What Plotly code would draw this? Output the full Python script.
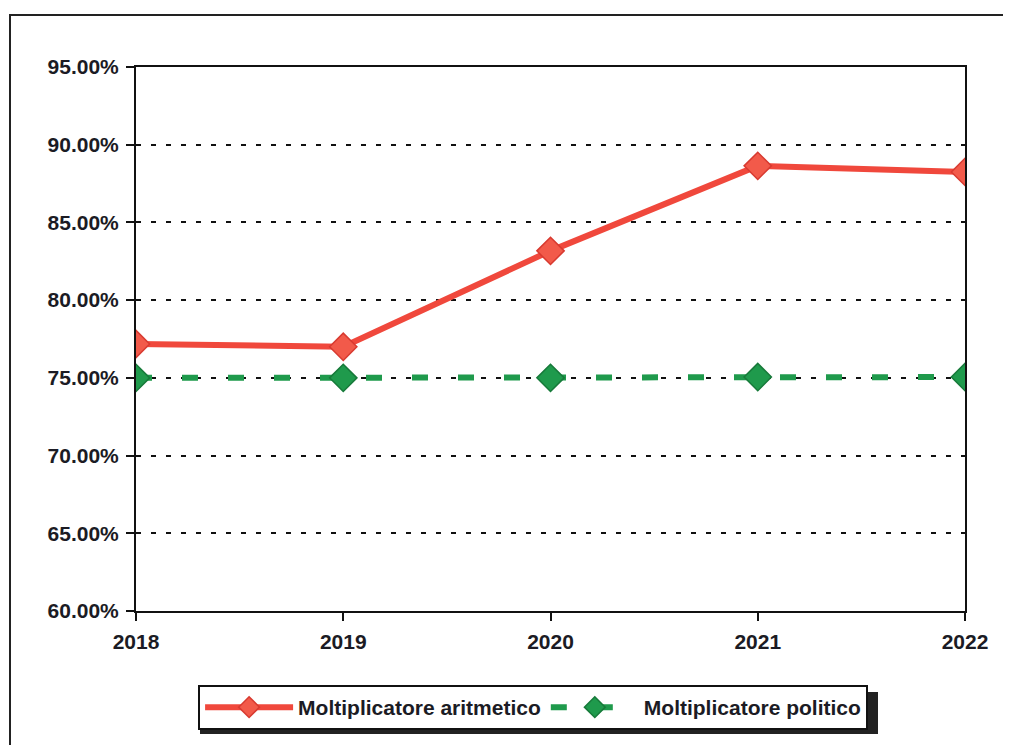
import plotly.graph_objects as go

years = ["2018", "2019", "2020", "2021", "2022"]
aritmetico = [77.18, 77.0, 83.17, 88.64, 88.25]
politico = [75.0, 75.0, 75.0, 75.05, 75.05]
y_ticks = [60, 65, 70, 75, 80, 85, 90, 95]
y_labels = [f"{v:.2f}%" for v in y_ticks]

W, H = 1011, 745
OFF = 7  # page offset of the figure inside the browser window
L, T = 135 - OFF, 66 - OFF
R = W - (964 - OFF)
B = H - (610 - OFF)

TXT = "#1b1b24"
FAM = "Liberation Sans, Arial, sans-serif"
tickfont = dict(family=FAM, size=21, color=TXT, weight="bold")

fig = go.Figure()
fig.add_trace(go.Scatter(
    x=years, y=aritmetico, name="Moltiplicatore aritmetico",
    mode="lines+markers",
    line=dict(color="#f0483c", width=6),
    marker=dict(symbol="diamond", size=21, color="#f25a4a",
                line=dict(color="#d83a30", width=1.5)),
))
fig.add_trace(go.Scatter(
    x=years, y=politico, name="Moltiplicatore politico",
    mode="lines+markers",
    line=dict(color="#1f9a4c", width=6, dash="16px,30px"),
    marker=dict(symbol="diamond", size=21, color="#1f9a4c",
                line=dict(color="#177a3a", width=1.5)),
))

fig.update_layout(
    width=W, height=H,
    margin=dict(l=L, r=R, t=T, b=B),
    paper_bgcolor="white", plot_bgcolor="white",
    font=dict(family=FAM, size=21, color=TXT),
    showlegend=True,
    legend=dict(
        orientation="h", x=0.479, xanchor="center", y=-0.136, yanchor="top",
        bgcolor="white", bordercolor="#111111", borderwidth=2,
        font=dict(family=FAM, size=21, color=TXT, weight="bold"),
        itemwidth=88,
    ),
    xaxis=dict(
        type="category", range=[0, 4], showgrid=False,
        showline=True, linecolor="#111111", linewidth=2,
        mirror=True, ticks="outside", ticklen=8, tickwidth=2, tickcolor="#111111",
        tickfont=tickfont, zeroline=False, ticklabelstandoff=3,
    ),
    yaxis=dict(
        range=[60, 95], tickvals=y_ticks, ticktext=y_labels,
        showgrid=True, gridcolor="#111111", gridwidth=2, griddash="5px,10px",
        showline=True, linecolor="#111111", linewidth=2, mirror=True,
        ticks="outside", ticklen=8, tickwidth=2, tickcolor="#111111",
        tickfont=tickfont, zeroline=False, ticklabelstandoff=3,
    ),
)

# outer chart frame (paper coordinates, converted from screen pixel positions)
def px_x(p):
    return (p - OFF - L) / (W - L - R)

def px_y(p):
    return (H - B - (p - OFF)) / (H - T - B)

fig.add_shape(type="line", xref="paper", yref="paper",
              x0=px_x(8), x1=px_x(1020), y0=px_y(14), y1=px_y(14),
              line=dict(color="#222222", width=2))
fig.add_shape(type="line", xref="paper", yref="paper",
              x0=px_x(9), x1=px_x(9), y0=px_y(14), y1=px_y(760),
              line=dict(color="#222222", width=2))
# legend shadow
fig.add_shape(type="rect", xref="paper", yref="paper",
              x0=px_x(199), x1=px_x(877), y0=px_y(691), y1=px_y(733),
              line=dict(width=0), fillcolor="#222222", layer="below")

fig.write_html("out.html")
